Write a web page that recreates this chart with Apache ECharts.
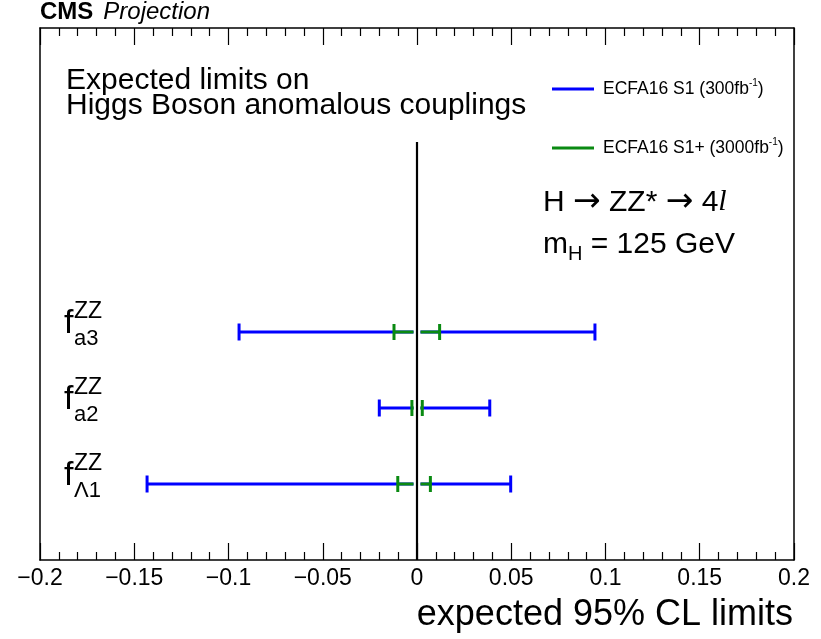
<!DOCTYPE html>
<html>
<head>
<meta charset="utf-8">
<script src="https://cdn.jsdelivr.net/npm/echarts@6/dist/echarts.min.js"></script>
<style>
  html, body { margin: 0; padding: 0; background: #fff; }
  #chart { width: 821px; height: 639px; }
</style>
</head>
<body>
<div id="chart"></div>
<script>
// couplings, top to bottom (row position on the y scale)
var couplings = ['a3', 'a2', 'Λ1'];
var rows = [3, 2, 1];

// ECFA16 S1 (300 fb-1) expected limits
var s1Low  = [-0.0944, -0.0200, -0.1432];
var s1High = [ 0.0944,  0.0386,  0.0497];

// ECFA16 S1+ (3000 fb-1) expected limits
var s1pLow  = [-0.0122, -0.0027, -0.0102];
var s1pHigh = [ 0.0120,  0.0028,  0.0071];

var seriesNames = ['ECFA16 S1 (300fb-1)', 'ECFA16 S1+ (3000fb-1)'];
var xTicks = [-0.2, 0.2, 0.05];
var zeroLineTop = 5.5;

var FONT = 'Liberation Sans';

function barData(lo, hi) {
  var out = [];
  for (var i = 0; i < rows.length; i++) {
    out.push([lo[i], hi[i], rows[i]]);
  }
  return out;
}

// error bar split around zero, with caps at both limits
function makeBarRenderer(capHalf) {
  return function (params, api) {
    var y = api.value(2);
    var lo = api.coord([api.value(0), y]);
    var hi = api.coord([api.value(1), y]);
    var zero = api.coord([0, y]);
    var gap = 3.5;
    var color = api.visual('color');
    var st = { stroke: color, lineWidth: 3 };
    return {
      type: 'group',
      children: [
        { type: 'line', shape: { x1: lo[0], y1: lo[1], x2: zero[0] - gap, y2: zero[1] }, style: st },
        { type: 'line', shape: { x1: zero[0] + gap, y1: zero[1], x2: hi[0], y2: hi[1] }, style: st },
        { type: 'line', shape: { x1: lo[0], y1: lo[1] - capHalf, x2: lo[0], y2: lo[1] + capHalf }, style: st },
        { type: 'line', shape: { x1: hi[0], y1: hi[1] - capHalf, x2: hi[0], y2: hi[1] + capHalf }, style: st }
      ]
    };
  };
}

// f^{ZZ}_{x} labels on the left of each row
function renderLabel(params, api) {
  var y = api.coord([0, api.value(0)])[1];
  var sub = couplings[params.dataIndex];
  return {
    type: 'group',
    children: [
      { type: 'text', x: 64, y: y + 9, style: { text: 'f', font: '34px ' + FONT, fill: '#000', verticalAlign: 'bottom' } },
      { type: 'text', x: 74, y: y - 9, style: { text: 'ZZ', font: '23px ' + FONT, fill: '#000', verticalAlign: 'bottom' } },
      { type: 'text', x: 74, y: y + 18, style: { text: sub, font: '22px ' + FONT, fill: '#000', verticalAlign: 'bottom' } }
    ]
  };
}

var myChart = echarts.init(document.getElementById('chart'));

var xAxisBase = {
  type: 'value',
  min: xTicks[0],
  max: xTicks[1],
  interval: xTicks[2],
  axisLine: { show: true, onZero: false, lineStyle: { color: '#000', width: 1.5 } },
  axisTick: { show: true, inside: true, length: 17, lineStyle: { color: '#000', width: 1.2 } },
  minorTick: { show: true, splitNumber: 5, length: 8, lineStyle: { color: '#000', width: 1.2 } },
  splitLine: { show: false }
};

var option = {
  animation: false,
  textStyle: { fontFamily: FONT },
  grid: { left: 40, right: 27, top: 28, bottom: 79 },
  xAxis: [
    echarts.util.merge({
      position: 'bottom',
      axisLabel: {
        color: '#000', fontSize: 23, margin: 7, fontFamily: FONT,
        formatter: function (v) { return String(Math.round(v * 100) / 100).replace('-', '\u2212'); }
      }
    }, xAxisBase, true),
    echarts.util.merge({ position: 'top', axisLabel: { show: false } }, xAxisBase, true)
  ],
  yAxis: [
    {
      type: 'value', min: 0, max: 7, position: 'left',
      axisLine: { show: true, onZero: false, lineStyle: { color: '#000', width: 1.5 } },
      axisTick: { show: false }, axisLabel: { show: false }, splitLine: { show: false }
    },
    {
      type: 'value', min: 0, max: 7, position: 'right',
      axisLine: { show: true, onZero: false, lineStyle: { color: '#000', width: 1.5 } },
      axisTick: { show: false }, axisLabel: { show: false }, splitLine: { show: false }
    }
  ],
  legend: {
    orient: 'vertical',
    left: 552,
    top: 78,
    padding: 0,
    itemWidth: 42,
    itemHeight: 3,
    itemGap: 37,
    data: [
      { name: seriesNames[0], icon: 'rect' },
      { name: seriesNames[1], icon: 'rect' }
    ],
    formatter: function (name) {
      return name.replace('fb-1)', 'fb{sup|-1})');
    },
    textStyle: {
      fontFamily: FONT, fontSize: 17.5, color: '#000', lineHeight: 22, padding: [0, 0, 0, 4],
      rich: { sup: { fontSize: 10, fontFamily: FONT, verticalAlign: 'top', lineHeight: 12, color: '#000' } }
    }
  },
  graphic: [
    {
      type: 'text', left: 40, top: 0,
      style: {
        text: '{b|CMS}{i|Projection}',
        rich: {
          b: { font: 'bold 24px ' + FONT, fill: '#000' },
          i: { font: 'italic 24px ' + FONT, fill: '#000', padding: [0, 0, 0, 10] }
        }
      }
    },
    {
      type: 'text', left: 66, top: 66,
      style: { text: 'Expected limits on\nHiggs Boson anomalous couplings', font: '30px ' + FONT, lineHeight: 25, fill: '#000' }
    },
    {
      type: 'text', left: 543, top: 186,
      style: {
        text: 'H {a|\u2192} ZZ* {a|\u2192} 4{l|l}',
        font: '30px ' + FONT, fill: '#000',
        rich: {
          a: { font: '33px "DejaVu Sans"', fill: '#000' },
          l: { font: 'italic 30px "Liberation Serif"', fill: '#000' }
        }
      }
    },
    {
      type: 'text', left: 543, top: 226,
      style: {
        text: 'm{s|H} = 125 GeV',
        font: '30px ' + FONT, fill: '#000', lineHeight: 38,
        rich: { s: { font: '20px ' + FONT, fill: '#000', verticalAlign: 'bottom', lineHeight: 38 } }
      }
    },
    {
      type: 'text', right: 28, top: 597,
      style: { text: 'expected 95% CL limits', font: '36px ' + FONT, fill: '#000' }
    }
  ],
  series: [
    {
      name: 'zero',
      type: 'line',
      data: [[0, 0], [0, zeroLineTop]],
      symbol: 'none',
      lineStyle: { color: '#000', width: 2.2 },
      z: 1
    },
    {
      name: seriesNames[0],
      type: 'custom',
      renderItem: makeBarRenderer(8.5),
      itemStyle: { color: '#0000ff' },
      data: barData(s1Low, s1High),
      z: 3
    },
    {
      name: seriesNames[1],
      type: 'custom',
      renderItem: makeBarRenderer(8),
      itemStyle: { color: '#0a8a12' },
      data: barData(s1pLow, s1pHigh),
      z: 4
    },
    {
      name: 'labels',
      type: 'custom',
      renderItem: renderLabel,
      data: rows.map(function (r) { return [r]; }),
      encode: { y: 0 },
      silent: true,
      z: 5
    }
  ]
};

myChart.setOption(option);
window.addEventListener('resize', function () {
  myChart.resize();
});
</script>
</body>
</html>
